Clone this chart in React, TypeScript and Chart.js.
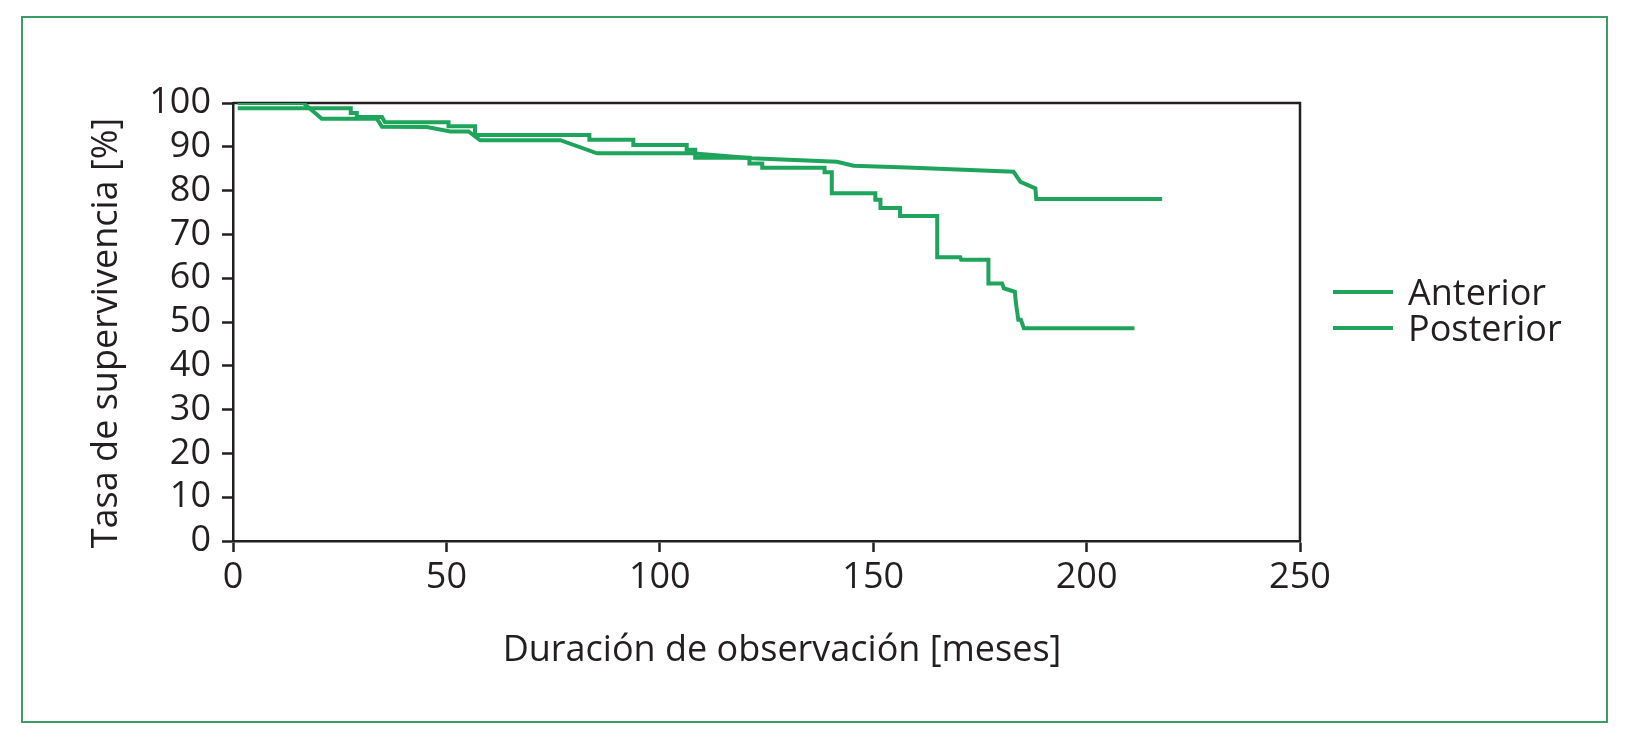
import React, { useEffect, useRef } from 'react';
import { Chart, registerables } from 'chart.js';

Chart.register(...registerables);

// ---- Data ----
const seriesLabels = ['Anterior', 'Posterior'];

const anteriorMonths = [
  1.1, 16.5, 20.8, 33.7, 34.9, 45.4, 50.9, 55.2, 57.9, 76.7, 85.3, 107.5,
  121.6, 141.5, 145.4, 157.9, 182.9, 184.5, 188.0, 188.2, 217.7,
];
const anteriorSurvival = [
  100, 100, 96.4, 96.4, 94.6, 94.5, 93.5, 93.5, 91.5, 91.5, 88.5, 88.5,
  87.4, 86.6, 85.7, 85.3, 84.3, 82.0, 80.5, 78.1, 78.1,
];

const posteriorMonths = [
  1.1, 27.6, 27.6, 29.0, 29.0, 34.9, 35.6, 50.5, 50.5, 56.7, 56.7, 83.5,
  83.5, 93.8, 93.8, 106.3, 106.3, 108.3, 108.3, 121.0, 121.0, 124.0, 124.0,
  138.6, 138.6, 140.3, 140.3, 150.5, 150.5, 151.7, 151.7, 156.3, 156.3,
  165.0, 165.0, 170.4, 170.6, 177.0, 177.0, 180.2, 180.6, 183.2, 183.4,
  184.0, 184.6, 185.3, 211.2,
];
const posteriorSurvival = [
  98.8, 98.8, 97.7, 97.7, 96.8, 96.8, 95.6, 95.6, 94.7, 94.7, 92.7, 92.7,
  91.6, 91.6, 90.4, 90.4, 89.3, 89.3, 87.5, 87.5, 86.2, 86.2, 85.2,
  85.2, 84.2, 84.2, 79.4, 79.4, 77.9, 77.9, 76.0, 76.0, 74.2,
  74.2, 64.8, 64.8, 64.2, 64.2, 58.8, 58.8, 57.7, 56.9, 54.6,
  50.5, 50.5, 48.6, 48.6,
];

const xMin = 0;
const xMax = 250;
const xStep = 50;
const yMin = 0;
const yMax = 100;
const yStep = 10;

const xTitle = 'Duración de observación [meses]';
const yTitle = 'Tasa de supervivencia [%]';

const GREEN = '#1fa55b';
const INK = '#231f20';
const FONT = '"Open Sans", "Noto Sans", sans-serif';

function toPoints(xs: number[], ys: number[]) {
  return xs.map((x, i) => ({ x, y: ys[i] }));
}

const framePlugin = {
  id: 'frameTopRight',
  beforeDatasetsDraw(chart: any) {
    const { ctx, chartArea } = chart;
    ctx.save();
    ctx.strokeStyle = INK;
    ctx.lineWidth = 2.5;
    ctx.beginPath();
    ctx.moveTo(chartArea.left, chartArea.top);
    ctx.lineTo(chartArea.right, chartArea.top);
    ctx.lineTo(chartArea.right, chartArea.bottom);
    ctx.stroke();
    ctx.restore();
  },
};

const textPlugin = {
  id: 'titlesAndLegend',
  afterDraw(chart: any) {
    const { ctx } = chart;
    ctx.save();
    ctx.fillStyle = INK;
    ctx.font = `36px ${FONT}`;
    // x-axis title
    ctx.textAlign = 'center';
    ctx.textBaseline = 'alphabetic';
    ctx.fillText(xTitle, 782, 661);
    // y-axis title
    ctx.save();
    ctx.translate(117, 333);
    ctx.rotate(-Math.PI / 2);
    ctx.fillText(yTitle, 0, 0);
    ctx.restore();
    // legend
    chart.data.datasets.forEach((ds: any, i: number) => {
      const y = 292 + i * 36;
      ctx.strokeStyle = ds.borderColor;
      ctx.lineWidth = 4;
      ctx.beginPath();
      ctx.moveTo(1333, y);
      ctx.lineTo(1393, y);
      ctx.stroke();
      ctx.fillStyle = INK;
      ctx.textAlign = 'left';
      ctx.fillText(ds.label, 1408, y + 13);
    });
    ctx.restore();
  },
};

export default function App() {
  const canvasRef = useRef<HTMLCanvasElement | null>(null);

  useEffect(() => {
    if (!canvasRef.current) return;
    const chart = new Chart(canvasRef.current, {
      type: 'line',
      data: {
        datasets: [
          {
            label: seriesLabels[0],
            data: toPoints(anteriorMonths, anteriorSurvival),
            borderColor: GREEN,
            borderWidth: 4,
            pointRadius: 0,
            tension: 0,
            fill: false,
          },
          {
            label: seriesLabels[1],
            data: toPoints(posteriorMonths, posteriorSurvival),
            borderColor: GREEN,
            borderWidth: 4,
            pointRadius: 0,
            tension: 0,
            fill: false,
          },
        ],
      },
      options: {
        animation: false,
        responsive: false,
        maintainAspectRatio: false,
        layout: { padding: { left: 60, top: 103, right: 329, bottom: 79 } },
        plugins: {
          legend: { display: false },
          tooltip: { enabled: false },
          title: { display: false },
        },
        scales: {
          x: {
            type: 'linear',
            min: xMin,
            max: xMax,
            afterFit: (s: any) => { s.height = 130; },
            ticks: {
              stepSize: xStep,
              color: INK,
              font: { family: FONT, size: 36 },
              padding: 4,
              maxRotation: 0,
              autoSkip: false,
            },
            grid: {
              display: true,
              drawOnChartArea: false,
              drawTicks: true,
              tickLength: 11,
              tickWidth: 2.5,
              tickColor: INK,
            },
            border: { display: true, color: INK, width: 2.5 },
          },
          y: {
            type: 'linear',
            min: yMin,
            max: yMax,
            afterFit: (s: any) => { s.width = 173; },
            ticks: {
              stepSize: yStep,
              color: INK,
              font: { family: FONT, size: 36 },
              padding: 11,
              autoSkip: false,
            },
            grid: {
              display: true,
              drawOnChartArea: false,
              drawTicks: true,
              tickLength: 11,
              tickWidth: 2.5,
              tickColor: INK,
            },
            border: { display: true, color: INK, width: 2.5 },
          },
        },
      },
      plugins: [framePlugin, textPlugin],
    });
    return () => chart.destroy();
  }, []);

  return (
    <div style={{ position: 'absolute', left: 0, top: 0, width: 1629, height: 750, background: '#fff' }}>
      <div
        style={{
          position: 'absolute',
          left: 21,
          top: 16,
          width: 1587,
          height: 707,
          border: '2px solid #3a9d63',
          boxSizing: 'border-box',
        }}
      />
      <canvas
        ref={canvasRef}
        width={1629}
        height={750}
        style={{ position: 'absolute', left: 0, top: 0, width: 1629, height: 750 }}
      />
    </div>
  );
}
